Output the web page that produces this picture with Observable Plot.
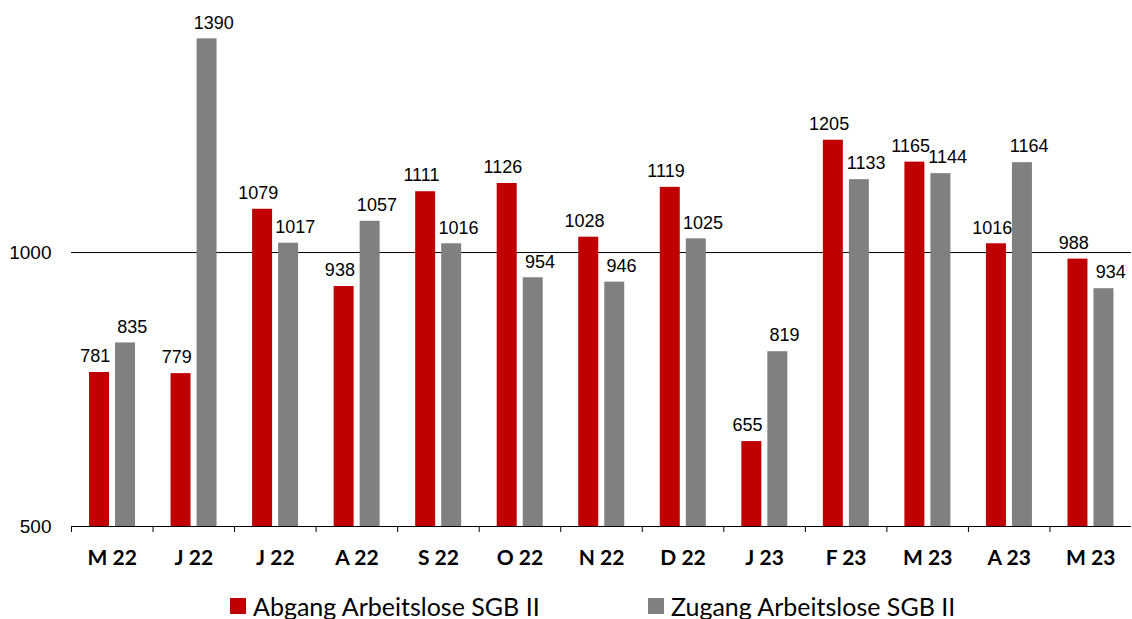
<!DOCTYPE html>
<html>
<head>
<meta charset="utf-8">
<script src="https://cdn.jsdelivr.net/npm/d3@7"></script>
<script src="https://cdn.jsdelivr.net/npm/@observablehq/plot@0.6"></script>
<style>
  html, body { margin: 0; padding: 0; background: #fff; }
  #chart { width: 1132px; position: relative; }
  .legend { position: relative; font-family: Lato, "Open Sans", sans-serif; font-size: 25px; color: #000; height: 44px; }
  .legend .item { position: absolute; top: 14px; display: flex; align-items: center; height: 34px; }
  .legend .sw { width: 16px; height: 16px; margin-right: 7px; display: inline-block; }
</style>
</head>
<body>
<div id="chart"></div>
<script>
// Data
const monthKeys = ["2022-05","2022-06","2022-07","2022-08","2022-09","2022-10","2022-11","2022-12","2023-01","2023-02","2023-03","2023-04","2023-05"];
const monthLabels = ["M 22","J 22","J 22","A 22","S 22","O 22","N 22","D 22","J 23","F 23","M 23","A 23","M 23"];
const abgang = [781, 779, 1079, 938, 1111, 1126, 1028, 1119, 655, 1205, 1165, 1016, 988];
const zugang = [835, 1390, 1017, 1057, 1016, 954, 946, 1025, 819, 1133, 1144, 1164, 934];
const seriesNames = ["Abgang Arbeitslose SGB II", "Zugang Arbeitslose SGB II"];
const seriesColors = ["#c00000", "#808080"];
const yTicks = [500, 1000];
const yDomain = [500, 1460];

const labelOf = new Map(monthKeys.map((k, i) => [k, monthLabels[i]]));
const rowsA = monthKeys.map((k, i) => ({month: k, value: abgang[i]}));
const rowsZ = monthKeys.map((k, i) => ({month: k, value: zugang[i]}));

const W = 1132, H = 575, mL = 71, mR = 1, mT = 0, mB = 49;
const step = (W - mL - mR) / monthKeys.length;
const numFont = "'Liberation Sans', Arial, sans-serif";

const plot = Plot.plot({
  width: W, height: H,
  marginLeft: mL, marginRight: mR, marginTop: mT, marginBottom: mB,
  style: {background: "#fff"},
  x: {domain: monthKeys, padding: 0, round: false, axis: null},
  y: {domain: yDomain, axis: null},
  marks: [
    Plot.ruleY([yTicks[1]], {stroke: "#000", strokeWidth: 1}),
    Plot.barY(rowsA, {x: "month", y1: yDomain[0], y2: "value", fill: seriesColors[0],
      insetLeft: step * 0.221, insetRight: step * (1 - 0.466)}),
    Plot.barY(rowsZ, {x: "month", y1: yDomain[0], y2: "value", fill: seriesColors[1],
      insetLeft: step * 0.54, insetRight: step * (1 - 0.785)}),
    Plot.text(rowsA, {x: "month", y: "value", text: d => String(d.value), dx: -17, dy: -16,
      fontFamily: numFont, fontSize: 18, fill: "#000"}),
    Plot.text(rowsZ, {x: "month", y: "value", text: d => String(d.value), dx: 20, dy: -16,
      fontFamily: numFont, fontSize: 18, fill: "#000"}),
    Plot.ruleY([yTicks[0]], {stroke: "#000", strokeWidth: 1}),
    Plot.axisY({ticks: yTicks, tickSize: 0, tickPadding: 20, fontSize: 19, tickFormat: d3.format("d"),
      fontFamily: numFont, label: null, color: "#000"}),
    Plot.axisX({ticks: monthKeys, tickSize: 6, tickFormat: () => "", dx: -step / 2, label: null, stroke: "#000"}),
    Plot.axisX({ticks: monthKeys, tickSize: 0, tickPadding: 24, tickFormat: d => labelOf.get(d),
      fontSize: 21, fontWeight: "bold", fontFamily: "Lato, 'Open Sans', sans-serif", label: null, color: "#000"})
  ]
});
document.getElementById("chart").appendChild(plot);

const legendLefts = [230, 648];
const legend = document.createElement("div");
legend.className = "legend";
seriesNames.forEach((name, i) => {
  const item = document.createElement("div");
  item.className = "item";
  item.style.left = legendLefts[i] + "px";
  const sw = document.createElement("span");
  sw.className = "sw";
  sw.style.background = seriesColors[i];
  const t = document.createElement("span");
  t.textContent = name;
  item.appendChild(sw); item.appendChild(t);
  legend.appendChild(item);
});
document.getElementById("chart").appendChild(legend);
</script>
</body>
</html>
